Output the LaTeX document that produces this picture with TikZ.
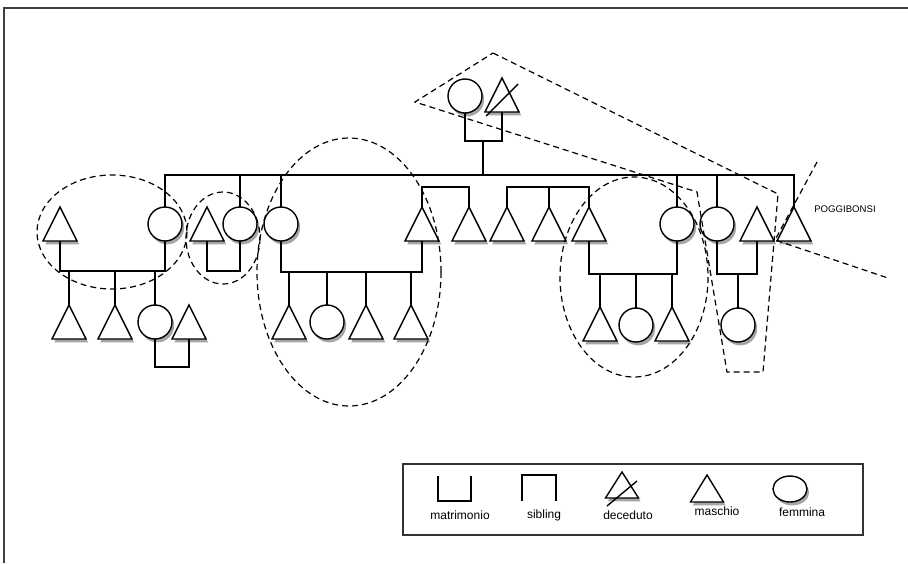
\documentclass[tikz,border=0pt]{standalone}
\usepackage{fontspec}
\setmainfont{Liberation Sans}
\usetikzlibrary{shapes.geometric,shadows,calc}

\begin{document}
\begin{tikzpicture}[x=0.5pt,y=-0.5pt,line width=0.7pt,
    ombra/.style={drop shadow={fill=black!35,opacity=1,shadow xshift=1.1pt,shadow yshift=-1.7pt}},
    femmina/.style={circle,draw,fill=white,minimum size=17pt,inner sep=0pt,outer sep=0pt,ombra},
    maschio/.style={isosceles triangle,isosceles triangle stretches,shape border rotate=90,
      draw,fill=white,minimum width=17pt,minimum height=17pt,inner sep=0pt,outer sep=0pt,anchor=south,ombra},
    confine/.style={dash pattern=on 3pt off 2pt,line width=0.6pt},
    testo/.style={font=\fontsize{6}{7}\selectfont,inner sep=0pt}]
  \useasboundingbox (0,0) rectangle (908,563);
  \draw[black!75,line width=0.6pt] (4,563) -- (4,8) -- (908,8);

  % nonni
  \node[femmina] (gm) at (465,96) {};
  \node[maschio] (gf) at (502,112) {};
  \draw ($(gf.south)+(-16,4)$) -- ($(gf.south)+(16,-28)$);

  % figli e coniugi
  \node[maschio] (m1) at (60,241) {};
  \node[femmina] (f1) at (165,224) {};
  \node[maschio] (m2) at (207,241) {};
  \node[femmina] (f2) at (240,224) {};
  \node[femmina] (f3) at (281,224) {};
  \node[maschio] (m3) at (422,241) {};
  \node[maschio] (m4) at (469,241) {};
  \node[maschio] (m5) at (507,241) {};
  \node[maschio] (m6) at (549,241) {};
  \node[maschio] (m7) at (589,241) {};
  \node[femmina] (f4) at (677,224) {};
  \node[femmina] (f5) at (717,224) {};
  \node[maschio] (m8) at (757,241) {};
  \node[maschio] (m9) at (794,241) {};

  % nipoti
  \node[maschio] (c1) at (69,339) {};
  \node[maschio] (c2) at (115,339) {};
  \node[femmina] (c3) at (155,322) {};
  \node[maschio] (c4) at (189,339) {};
  \node[maschio] (d1) at (289,339) {};
  \node[femmina] (d2) at (327,322) {};
  \node[maschio] (d3) at (366,339) {};
  \node[maschio] (d4) at (411,339) {};
  \node[maschio] (e1) at (600,341) {};
  \node[femmina] (e2) at (636,325) {};
  \node[maschio] (e3) at (672,341) {};
  \node[femmina] (g1) at (738,325) {};

  \coordinate (nonni) at (483,141);
  \coordinate (fr) at (483,175);
  \coordinate (s1) at (445,187);
  \coordinate (s2) at (549,187);
  \coordinate (u1) at (112,271);
  \coordinate (u2) at (223,271);
  \coordinate (u3) at (350,272);
  \coordinate (u4) at (633,274);
  \coordinate (u5) at (738,274);
  \coordinate (u6) at (172,367);

  \draw (gm.south) |- (nonni) -| (gf.south);
  \draw (nonni) -- (fr);
  \draw (f1.north) |- (fr) -| (m9.north);
  \foreach \n in {f2,f3,f4,f5}
    \draw (\n.north) -- (\n.north |- fr);
  \draw (m3.north) |- (s1) -| (m4.north);
  \draw (m5.north) |- (s2) -| (m7.north);
  \draw (m6.north) -- (s2);

  \draw (m1.south) |- (u1) -| (f1.south);
  \foreach \n in {c1,c2,c3}
    \draw (\n.north) -- (\n.north |- u1);
  \draw (c3.south) |- (u6) -| (c4.south);
  \draw (m2.south) |- (u2) -| (f2.south);
  \draw (f3.south) |- (u3) -| (m3.south);
  \foreach \n in {d1,d2,d3,d4}
    \draw (\n.north) -- (\n.north |- u3);
  \draw (m7.south) |- (u4) -| (f4.south);
  \foreach \n in {e1,e2,e3}
    \draw (\n.north) -- (\n.north |- u4);
  \draw (f5.south) |- (u5) -| (m8.south);
  \draw (u5) -- (g1.north);

  % confini
  \draw[confine] (112,232) ellipse [x radius=75,y radius=57];
  \draw[confine] (223,238) ellipse [x radius=37,y radius=46];
  \draw[confine] (349,272) ellipse [x radius=92,y radius=134];
  \draw[confine] (634,277) ellipse [x radius=74,y radius=100];
  \draw[confine] (493,53) -- (778,194) -- (763,372) -- (727,372) -- (697,192) -- (415,102) -- cycle;
  \draw[confine] (817,162) -- (775,240) -- (888,278);
  \node[font=\fontsize{4.8}{5}\selectfont,inner sep=0pt] (pogg) at (845,209) {POGGIBONSI};

  % legenda
  \draw[black!80] (403,464) rectangle (863,535);
  \draw (438,476) -- (438,501) -- (471,501) -- (471,476);
  \draw (522,501) -- (522,475) -- (556,475) -- (556,501);
  \node[maschio,minimum width=16.5pt,minimum height=13pt] (ldec) at (622,498) {};
  \draw (607,506) -- (637,481);
  \node[maschio,minimum width=16.5pt,minimum height=13.5pt] (lmas) at (707,502) {};
  \node[ellipse,draw,fill=white,minimum width=17pt,minimum height=13pt,inner sep=0pt,ombra] (lfem) at (790,489) {};
  \node[testo] (tmat) at (460,515) {matrimonio};
  \node[testo] (tsib) at (544,515) {sibling};
  \node[testo] (tdec) at (628,515) {deceduto};
  \node[testo] (tmas) at (717,511) {maschio};
  \node[testo] (tfem) at (802,512) {femmina};
\end{tikzpicture}
\end{document}
